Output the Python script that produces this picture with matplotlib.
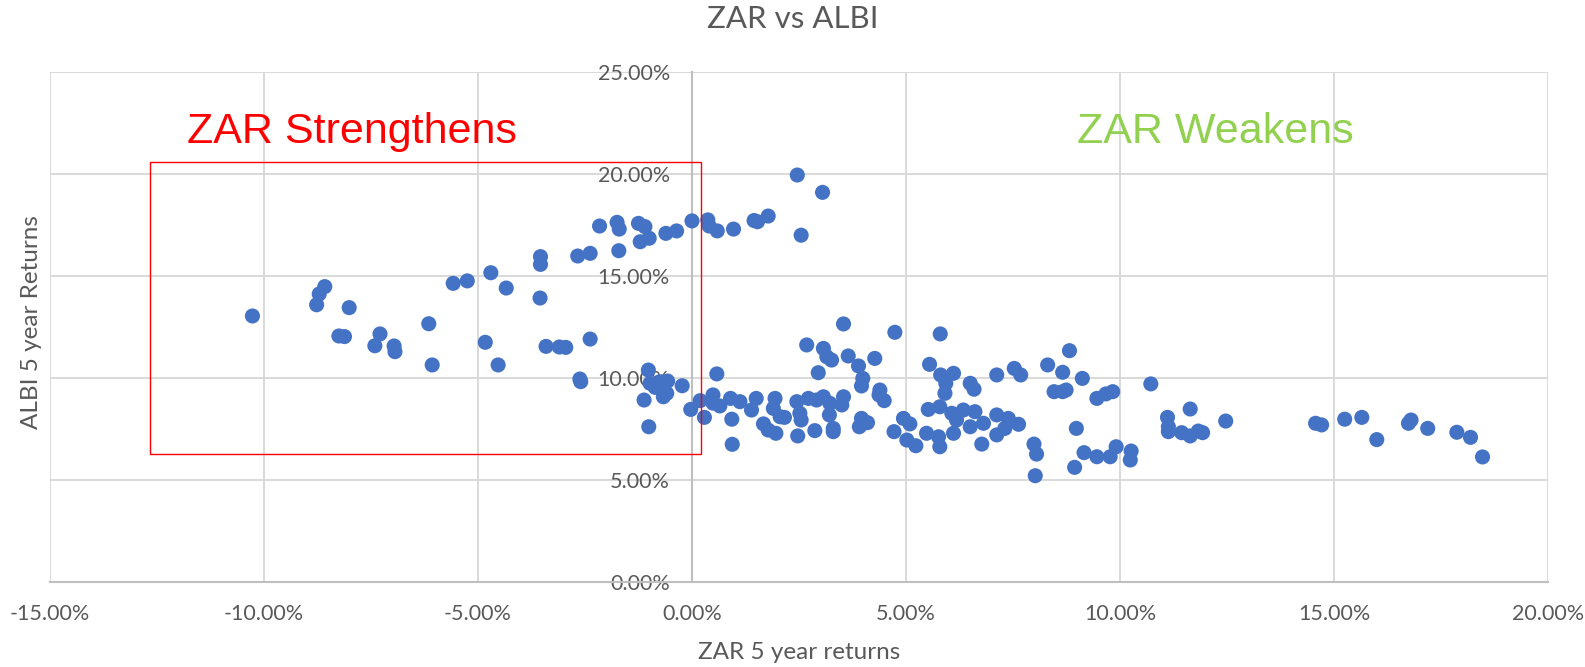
import matplotlib

matplotlib.use("Agg")
import matplotlib.pyplot as plt
from matplotlib.patches import Rectangle
from matplotlib.ticker import MultipleLocator, PercentFormatter

# ZAR 5 year returns (%) vs ALBI 5 year returns (%)
zar = [
    -10.27, -8.58, -8.71, -8.77, -8.01, -8.25, -8.12, -7.29, -7.41, -6.96,
    -6.94, -6.15, -6.07, -5.58, -5.25, -4.70, -4.34, -4.83, -4.53, -3.54,
    -3.54, -3.55, -3.41, -3.10, -2.95, -2.62, -2.60, -2.38, -2.67, -2.38,
    -2.16, -1.75, -1.70, -1.71, -1.25, -1.10, -1.21, -1.00, -0.61, -0.36,
    0.00, 0.37, 0.40, 0.59, 0.97, 1.53, 1.78, 1.45, 2.46, 3.05,
    2.55, -1.02, -0.98, -0.75, -0.57, -1.12, -0.67, -0.59, -0.86, -0.23,
    -1.01, -0.03, 0.19, 0.29, 0.49, 0.49, 0.58, 0.65, 0.90, 0.93,
    0.94, 1.12, 1.39, 1.50, 1.67, 1.78, 1.94, 1.90, 1.96, 2.16,
    2.47, 2.45, 2.52, 2.55, 2.68, 2.95, 3.07, 3.15, 3.26, 2.87,
    2.72, 3.07, 3.30, 3.54, 4.74, 5.80, 3.65, 3.89, 4.27, 3.99,
    3.96, 4.39, 4.49, 4.37, 3.91, 4.10, 3.96, 4.72, 4.94, 5.09,
    5.02, 5.23, 5.55, 5.81, 6.11, 5.93, 5.91, 6.50, 6.59, 7.12,
    5.52, 5.79, 6.07, 6.34, 6.61, 6.18, 6.50, 6.81, 5.48, 5.76,
    5.79, 6.11, 6.77, 7.12, 7.12, 2.91, 3.22, 3.21, 3.30, 3.54,
    3.50, 2.06, 8.82, 8.31, 7.53, 7.68, 8.66, 9.12, 8.46, 8.66,
    8.74, 9.46, 9.67, 9.83, 10.72, 7.39, 7.63, 7.31, 7.99, 8.05,
    8.02, 8.98, 8.94, 9.16, 9.46, 9.77, 9.91, 10.26, 10.24, 11.11,
    11.13, 11.13, 11.64, 11.44, 11.64, 11.83, 11.93, 12.47, 14.57, 14.71,
    15.25, 15.65, 16.00, 16.74, 16.80, 17.19, 17.87, 18.19, 18.47,
]
albi = [
    13.04, 14.48, 14.12, 13.59, 13.45, 12.06, 12.03, 12.16, 11.58, 11.57,
    11.29, 12.66, 10.64, 14.64, 14.76, 15.16, 14.41, 11.75, 10.64, 15.95,
    15.57, 13.92, 11.55, 11.52, 11.50, 9.95, 9.82, 11.91, 15.98, 16.11,
    17.45, 17.63, 17.30, 16.24, 17.58, 17.42, 16.68, 16.85, 17.09, 17.21,
    17.70, 17.75, 17.45, 17.21, 17.30, 17.66, 17.94, 17.72, 19.95, 19.10,
    17.00, 10.39, 9.74, 9.82, 9.85, 8.92, 9.08, 9.25, 9.54, 9.62,
    7.61, 8.46, 8.89, 8.07, 9.17, 8.77, 10.20, 8.63, 9.00, 7.98,
    6.75, 8.84, 8.43, 9.00, 7.75, 7.45, 9.00, 8.51, 7.29, 8.07,
    7.16, 8.84, 8.27, 7.94, 11.62, 10.26, 11.45, 11.04, 10.88, 7.42,
    9.00, 9.08, 7.37, 12.65, 12.24, 12.16, 11.08, 10.59, 10.96, 9.98,
    9.61, 9.41, 8.89, 9.17, 7.61, 7.81, 8.02, 7.37, 8.02, 7.75,
    6.96, 6.68, 10.67, 10.15, 10.23, 9.74, 9.25, 9.74, 9.45, 10.15,
    8.46, 8.59, 8.27, 8.43, 8.35, 7.94, 7.61, 7.78, 7.29, 7.12,
    6.63, 7.29, 6.76, 7.21, 8.19, 8.92, 8.76, 8.19, 7.53, 9.08,
    8.68, 8.10, 11.34, 10.64, 10.47, 10.15, 10.28, 9.98, 9.33, 9.33,
    9.41, 9.00, 9.22, 9.33, 9.71, 8.02, 7.73, 7.53, 6.76, 6.27,
    5.21, 7.53, 5.62, 6.34, 6.14, 6.14, 6.63, 6.42, 5.98, 8.07,
    7.61, 7.37, 8.48, 7.32, 7.16, 7.40, 7.32, 7.89, 7.78, 7.70,
    7.98, 8.07, 6.98, 7.78, 7.94, 7.53, 7.34, 7.09, 6.13,
]

box_x = (-12.66, 0.21)
box_y = (6.27, 20.59)

GRAY = "#595959"
GRID = "#D9D9D9"
AXIS = "#BFBFBF"

plt.rcParams["axes.unicode_minus"] = False
plt.rcParams["font.family"] = ["Lato", "DejaVu Sans"]

fig = plt.figure(figsize=(15.85, 6.67), dpi=100)
ax = fig.add_axes([50 / 1585, 1 - 582 / 667, 1498 / 1585, 510 / 667])

ax.scatter(zar, albi, s=118, color="#4472C4", edgecolors="none", zorder=3)

ax.set_xlim(-15, 20)
ax.set_ylim(0, 25)
ax.xaxis.set_major_locator(MultipleLocator(5))
ax.yaxis.set_major_locator(MultipleLocator(5))
ax.xaxis.set_major_formatter(PercentFormatter(decimals=2))
ax.yaxis.set_major_formatter(PercentFormatter(decimals=2))
ax.grid(True, color=GRID, linewidth=1.4, zorder=0)
ax.set_axisbelow(True)

for side in ("top", "right"):
    ax.spines[side].set_visible(False)
ax.spines["left"].set_position(("data", 0))
ax.spines["left"].set_color(AXIS)
ax.spines["left"].set_linewidth(1.5)
ax.spines["bottom"].set_color(AXIS)
ax.spines["bottom"].set_linewidth(1.5)
ax.tick_params(axis="both", length=0, labelsize=15.5, labelcolor=GRAY)
ax.tick_params(axis="x", pad=16)
ax.tick_params(axis="y", pad=16)

ax.add_patch(Rectangle((box_x[0], box_y[0]), box_x[1] - box_x[0], box_y[1] - box_y[0],
                       fill=False, edgecolor="#FF0000", linewidth=1.0, zorder=4))

ax.text(-11.8, 21.5, "ZAR Strengthens", color="#FF0000", fontsize=31,
        family="Liberation Sans", va="baseline", ha="left")
ax.text(8.99, 21.5, "ZAR Weakens", color="#92D050", fontsize=31,
        family="Liberation Sans", va="baseline", ha="left")

fig.text(0.5, 1 - 28 / 667, "ZAR vs ALBI", color=GRAY, fontsize=22.5,
         ha="center", va="baseline")
fig.text(799 / 1585, 0.021, "ZAR 5 year returns", color=GRAY, fontsize=17.5,
         ha="center", va="center")
fig.text(32 / 1585, 1 - 322 / 667, "ALBI 5 year Returns", color=GRAY, fontsize=17.5,
         ha="center", va="center", rotation=90)

fig.savefig("out.png", dpi=100)
